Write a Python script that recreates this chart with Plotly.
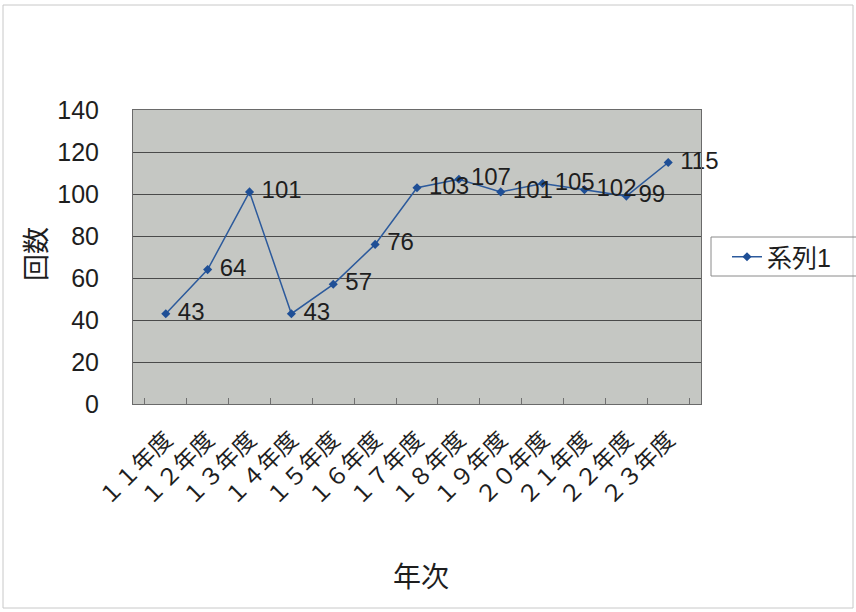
import plotly.graph_objects as go

categories = ["１１年度", "１２年度", "１３年度", "１４年度", "１５年度", "１６年度", "１７年度",
              "１８年度", "１９年度", "２０年度", "２１年度", "２２年度", "２３年度"]
values = [43, 64, 101, 43, 57, 76, 103, 107, 101, 105, 102, 99, 115]
series_name = "系列1"
x_title = "年次"
y_title = "回数"

FONT = "Liberation Sans, Arial, Noto Sans CJK JP, sans-serif"
W, H = 856, 612
L, R, T, B = 133, 701, 110, 404
pw, ph = R - L, B - T

fig = go.Figure()
fig.add_trace(go.Scatter(
    x=categories, y=values, name=series_name,
    mode="lines+markers+text",
    text=[" " + str(v) for v in values],
    textposition="middle right",
    textfont=dict(family=FONT, size=24, color="#1e1e1e"),
    line=dict(color="#2c5a9c", width=1.5),
    marker=dict(symbol="diamond", size=7, color="#1f4f96"),
    cliponaxis=False,
))

fig.update_layout(
    width=W, height=H,
    margin=dict(l=L, r=W - R, t=T, b=H - B, pad=0),
    paper_bgcolor="white",
    plot_bgcolor="#c5c7c3",
    font=dict(family=FONT, size=24, color="#1e1e1e"),
    showlegend=True,
    legend=dict(
        x=(727 - L) / pw, xanchor="left",
        y=(B - 257) / ph, yanchor="middle",
        borderwidth=0,
        bgcolor="rgba(0,0,0,0)",
        font=dict(family=FONT, size=25, color="#1e1e1e"),
        itemwidth=30,
    ),
    xaxis=dict(
        type="category",
        tickangle=-45,
        tickson="boundaries",
        ticks="inside", ticklen=6, tickcolor="#707070",
        ticklabelstandoff=12,
        showline=True, linecolor="#6a6a6a", linewidth=1, mirror=True,
        showgrid=False,
        tickfont=dict(family=FONT, size=23, color="#1e1e1e"),
    ),
    yaxis=dict(
        range=[0, 140], dtick=20,
        showline=True, linecolor="#6a6a6a", linewidth=1, mirror=True,
        showgrid=True, gridcolor="#4a4a4a", gridwidth=1,
        ticks="", zeroline=False,
        ticklabelstandoff=28,
        tickfont=dict(family=FONT, size=25, color="#1e1e1e"),
    ),
    annotations=[
        dict(text=x_title, xref="paper", yref="paper",
             x=(421 - L) / pw, y=(B - 577) / ph, xanchor="center", yanchor="middle",
             showarrow=False, font=dict(family=FONT, size=28, color="#1e1e1e")),
        dict(text=y_title, xref="paper", yref="paper",
             x=(37 - L) / pw, y=(B - 254) / ph, xanchor="center", yanchor="middle",
             textangle=-90, showarrow=False,
             font=dict(family=FONT, size=27, color="#1e1e1e")),
    ],
    shapes=[
        dict(type="rect", xref="paper", yref="paper",
             x0=(3 - L) / pw, x1=(853 - L) / pw,
             y0=(B - 608) / ph, y1=(B - 5) / ph,
             line=dict(color="#c8c8c8", width=1), layer="below"),
        dict(type="rect", xref="paper", yref="paper",
             x0=(711 - L) / pw, x1=(860 - L) / pw,
             y0=(B - 276) / ph, y1=(B - 237) / ph,
             line=dict(color="#8a8a8a", width=1), layer="below"),
    ],
)

fig.write_html("out.html")
